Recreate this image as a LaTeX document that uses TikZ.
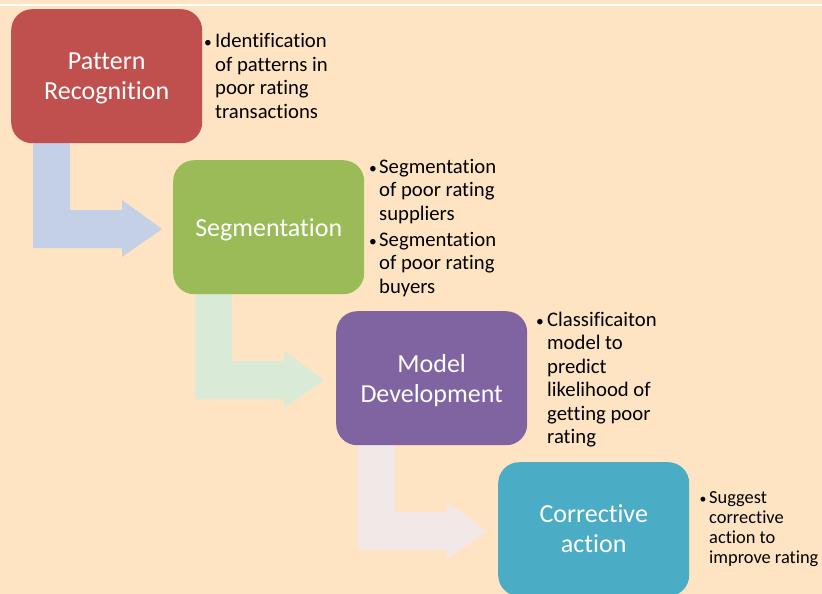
\documentclass[tikz,border=0pt]{standalone}
\usepackage{fontspec}
\setmainfont{Carlito}[Ligatures={NoCommon}, RawFeature={-liga;-clig;-dlig}]
\definecolor{bg}{HTML}{FFE4C3}
\definecolor{cred}{HTML}{C0504D}
\definecolor{cgreen}{HTML}{9BBB59}
\definecolor{cpurple}{HTML}{8064A2}
\definecolor{cteal}{HTML}{4BACC6}
\definecolor{arblue}{HTML}{C4D0E5}
\definecolor{argreen}{HTML}{D9EAD6}
\definecolor{arpink}{HTML}{F2E8E7}
\newcommand{\bdot}{\scalebox{0.75}{•}}
\begin{document}
\begin{tikzpicture}[x=1pt,y=-1pt,
  stagebox/.style={rounded corners=21pt, minimum width=191pt, minimum height=134pt,
    inner sep=0pt},
  stagetext/.style={inner sep=0pt, text=white, align=center, yshift=-2.5pt,
    font=\fontsize{26}{30}\selectfont},
  bultext/.style={anchor=base west, inner sep=0pt, text=black},
  bulmark/.style={anchor=base, inner sep=0pt, text=black},
  bigtxt/.style={font=\fontsize{20.7}{23.5}\selectfont},
  smalltxt/.style={font=\fontsize{18.4}{20.3}\selectfont}]
\useasboundingbox (0,0) rectangle (822,594);
\fill[bg] (0,0) rectangle (822,594);
\fill[white] (0,4) rectangle (822,6);

\path (11,9) coordinate (p1) (173,160) coordinate (p2) (336,311) coordinate (p3) (498,462) coordinate (p4);

% bent arrows
\foreach \s/\c in {p1/arblue,p2/argreen,p3/arpink}{
  \begin{scope}[shift={(\s)}, yshift=-134pt]
    \fill[\c] (22,0) -- (59,0) -- (59,67) -- (111,67) -- (111,57) -- (151,86)
      -- (111,114) -- (111,105) -- (22,105) -- cycle;
  \end{scope}
}

\node[stagebox, fill=cred, anchor=north west] (b1) at (p1) {};
\node[stagebox, fill=cgreen, anchor=north west] (b2) at (p2) {};
\node[stagebox, fill=cpurple, anchor=north west] (b3) at (p3) {};
\node[stagebox, fill=cteal, anchor=north west] (b4) at (p4) {};
\node[stagetext] (l1) at (b1.center) {Pattern\\Recognition};
\node[stagetext] (l2) at (b2.center) {Segmentation};
\node[stagetext] (l3) at (b3.center) {Model\\Development};
\node[stagetext, yshift=3pt] (l4) at (b4.center) {Corrective\\action};

% bullet texts
\node[bulmark, bigtxt] (m1) at (208,48) {\bdot};
\node[bultext, bigtxt] (t1) at (215,48) {\begin{tabular}[t]{@{}l@{}}Identification\\ of patterns in\\ poor rating\\ transactions\end{tabular}};

\node[bulmark, bigtxt] (m2a) at (373,173) {\bdot};
\node[bultext, bigtxt] (t2a) at (379,173) {\begin{tabular}[t]{@{}l@{}}Segmentation\\ of poor rating\\ suppliers\end{tabular}};
\node[bulmark, bigtxt] (m2b) at (373,246) {\bdot};
\node[bultext, bigtxt] (t2b) at (379,246) {\begin{tabular}[t]{@{}l@{}}Segmentation\\ of poor rating\\ buyers\end{tabular}};

\node[bulmark, bigtxt] (m3) at (540,326) {\bdot};
\node[bultext, bigtxt] (t3) at (547,326) {\begin{tabular}[t]{@{}l@{}}Classificaiton\\ model to\\ predict\\ likelihood of\\ getting poor\\ rating\end{tabular}};

\node[bulmark, smalltxt] (m4) at (703,503) {\bdot};
\node[bultext, smalltxt] (t4) at (709,503) {\begin{tabular}[t]{@{}l@{}}Suggest\\ corrective\\ action to\\ improve rating\end{tabular}};
\end{tikzpicture}
\end{document}
